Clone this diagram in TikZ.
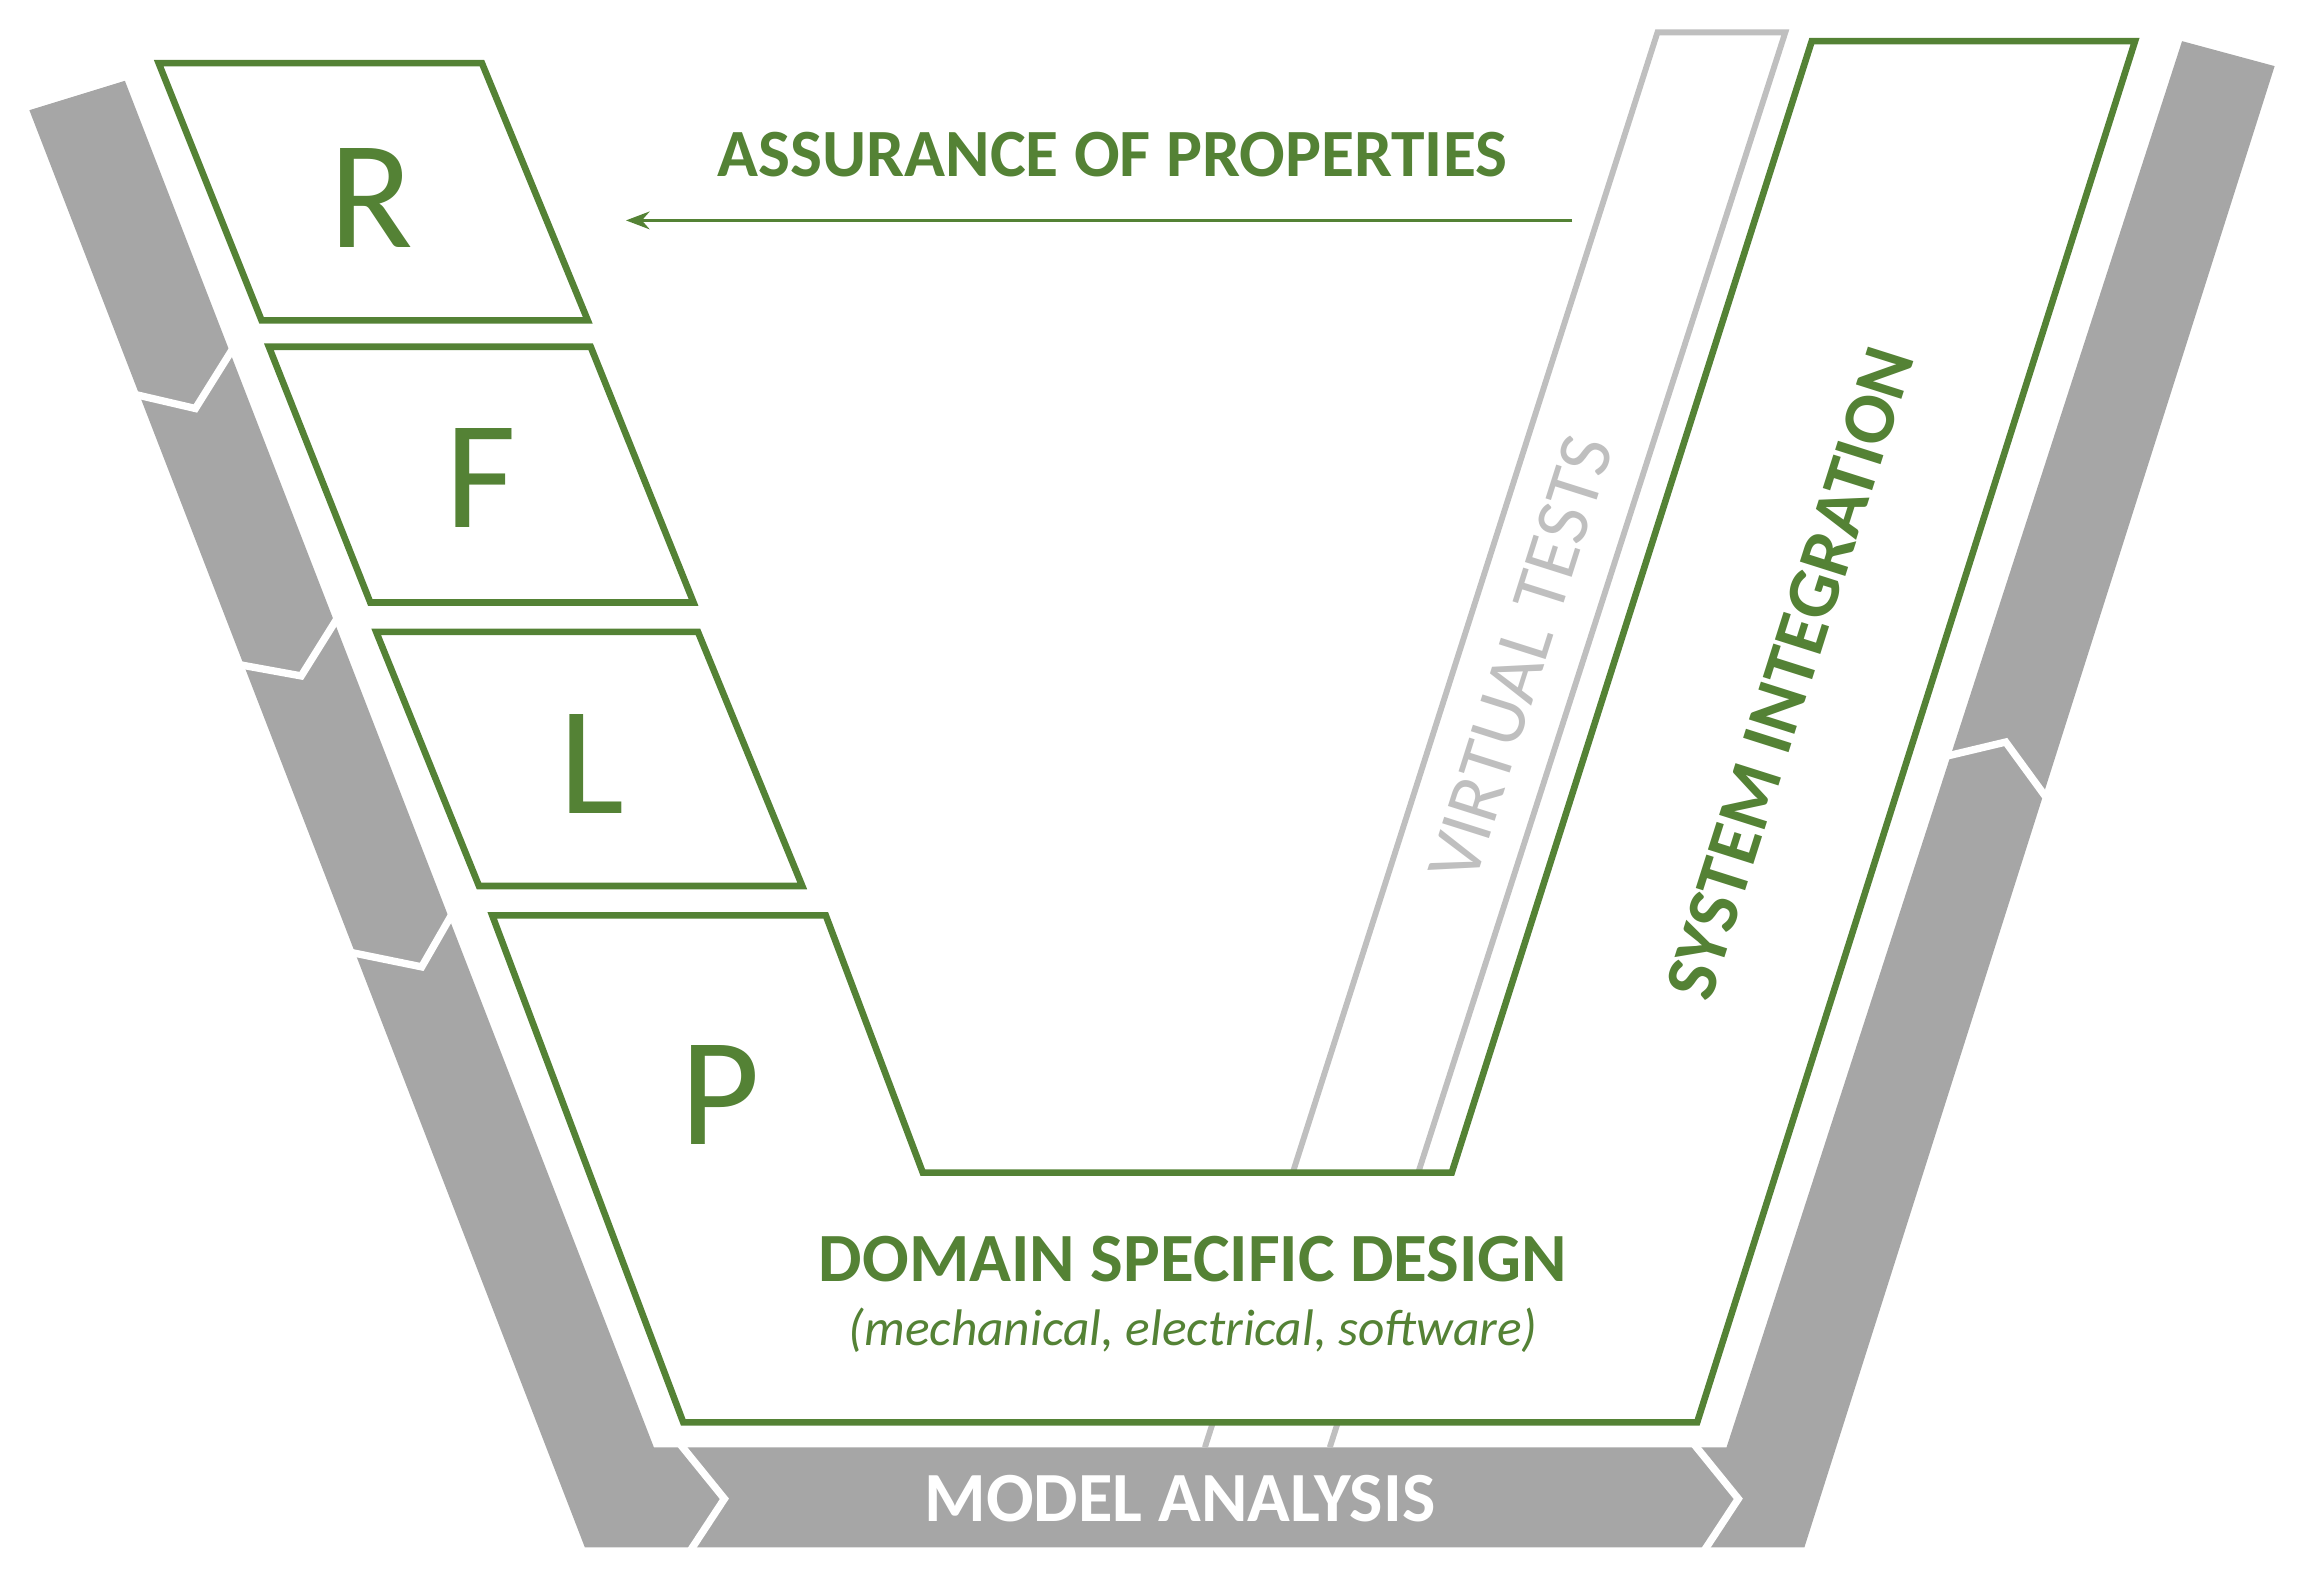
\documentclass[tikz,border=0pt]{standalone}
\usepackage{fontspec}
\setmainfont{Carlito}
\usetikzlibrary{arrows.meta}
\definecolor{grn}{HTML}{548235}
\definecolor{gry}{HTML}{A6A6A6}
\definecolor{lgry}{HTML}{BFBFBF}
\tikzset{
  box/.style={draw=grn,line width=4.5pt,fill=white,line join=miter},
  gap/.style={draw=white,line width=5pt},
  lbl/.style={text=grn,font=\bfseries\fontsize{46}{50}\selectfont},
  big/.style={text=grn,font=\fontsize{105}{110}\selectfont}
}
\begin{document}
\begin{tikzpicture}[x=1pt,y=-1pt]
\useasboundingbox (0,0) rectangle (1568,1073);
% gray U band
\fill[gry] (20,75) -- (85,55) -- (445,985) -- (1175,985) -- (1485,28) -- (1548,45) -- (1228,1053) -- (398,1053) -- cycle;
\draw[gap] (90,268) -- (133,278) -- (158,238);
\draw[gap] (161,452) -- (205,460) -- (230,420);
\draw[gap] (238,648) -- (287,658) -- (310,618);
\draw[gap] (463,983) -- (493,1020) -- (470,1055);
\draw[gap] (1153,983) -- (1183,1020) -- (1160,1055);
\draw[gap] (1323,515) -- (1365,505) -- (1392,542);
\node[text=white,font=\bfseries\fontsize{48}{52}\selectfont] (ma) at (803,1020) {MODEL ANALYSIS};
% virtual tests band
\coordinate (vt1) at (1128,22); \coordinate (vt2) at (1215,22);
\coordinate (vt3) at (905,985); \coordinate (vt4) at (820,985);
\draw[lgry,line width=4pt] (vt4) -- (vt1) -- (vt2) -- (vt3);
% boxes
\draw[box] (108,43) -- (328,43) -- (400,218) -- (178,218) -- cycle;
\draw[box] (183,236) -- (402,236) -- (472,410) -- (252,410) -- cycle;
\draw[box] (256,430) -- (475,430) -- (546,603) -- (326,603) -- cycle;
\draw[box] (335,623) -- (562,623) -- (628,798) -- (988,798) -- (1233,28) -- (1453,28) -- (1155,968) -- (465,968) -- cycle;
\node[big] (r) at (253,135) {R};
\node[big] (f) at (327,325) {F};
\node[big] (l) at (403,520) {L};
\node[big] (p) at (490,745) {P};
\node[lbl] (ap) at (757,105) {ASSURANCE OF PROPERTIES};
\coordinate (a1) at (1070,150); \coordinate (a2) at (426,150);
\draw[grn,line width=2.5pt,-{Stealth[length=16pt,width=12pt]}] (a1) -- (a2);
\node[lbl,font=\bfseries\fontsize{47}{51}\selectfont] (dsd) at (812,857) {DOMAIN SPECIFIC DESIGN};
\node[text=grn,font=\itshape\fontsize{35}{40}\selectfont] (sub) at (812,905) {(mechanical, electrical, software)};
\node[lbl,font=\bfseries\fontsize{50}{54}\selectfont,rotate=72.4] (si) at (1218,458) {SYSTEM INTEGRATION};
\node[text=lgry,font=\fontsize{52}{56}\selectfont,rotate=72.4] (vt) at (1035,448) {VIRTUAL TESTS};
\end{tikzpicture}
\end{document}
